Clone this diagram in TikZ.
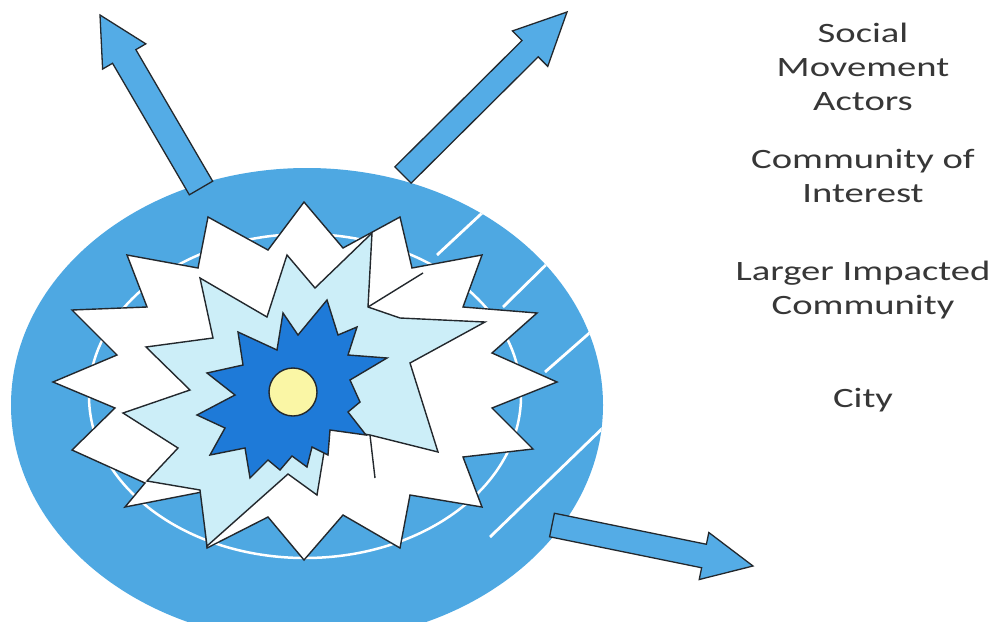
\documentclass[tikz,border=0pt]{standalone}
\usepackage{fontspec}
\setmainfont{Carlito}
\usetikzlibrary{calc}
\definecolor{ringblue}{RGB}{78,168,226}
\definecolor{arrowblue}{RGB}{84,172,230}
\definecolor{paleCyan}{RGB}{204,238,248}
\definecolor{deepBlue}{RGB}{30,122,216}
\definecolor{sunYellow}{RGB}{250,246,165}
\definecolor{inkline}{RGB}{35,40,45}
\definecolor{labelgray}{RGB}{55,55,55}
\tikzset{
  starshape/.style={draw=inkline, line width=1.4pt, line join=miter, miter limit=25},
  arrowshape/.style={fill=arrowblue, draw=inkline, line width=1.3pt, line join=miter},
  hatchline/.style={draw=white, line width=2.8pt},
  ringline/.style={draw=white, line width=2.5pt},
  legendtext/.style={font=\fontsize{28}{33.6}\selectfont, text=labelgray, align=center,
    xscale=1.38, anchor=base, inner sep=0pt}
}
% #1 name, #2 tail, #3 tip, #4 half shaft, #5 half head, #6 head length
\newcommand{\blockarrow}[6]{%
  \coordinate (#1-b) at ($(#3)!#6!(#2)$);
  \draw[arrowshape] ($(#2)!#4!90:(#3)$) -- ($(#1-b)!#4!90:(#3)$) -- ($(#1-b)!#5!90:(#3)$)
    -- (#3) -- ($(#1-b)!#5!-90:(#3)$) -- ($(#1-b)!#4!-90:(#3)$) -- ($(#2)!#4!-90:(#3)$) -- cycle;
}
\begin{document}
\begin{tikzpicture}[x=1pt,y=-1pt]
\useasboundingbox (0,0) rectangle (1001,621);
\fill[white] (0,0) rectangle (1001,621);
% outer blue disc
\coordinate (disc) at (307,405);
\fill[ringblue] (disc) ellipse [x radius=296, y radius=237];
\begin{scope}
  \clip (disc) ellipse [x radius=296, y radius=237];
  \draw[hatchline] (495,201) -- (437,255);
  \draw[hatchline] (559,252) -- (503,307);
  \draw[hatchline] (602,322) -- (545,372);
  \draw[hatchline] (610,421) -- (490,537);
\end{scope}
\draw[ringline] (305,396) ellipse [x radius=216, y radius=162];
% outer white burst
\draw[starshape, fill=white] (304,202) -- (343,248) -- (400,217) -- (412,268) -- (482,255)
  -- (463,307) -- (537,313) -- (492,353) -- (557,382) -- (492,408) -- (533,449)
  -- (463,457) -- (482,507) -- (410,495) -- (400,548) -- (343,515) -- (304,560)
  -- (268,517) -- (207,548) -- (202,492) -- (125,507) -- (145,483) -- (72,450)
  -- (115,408) -- (53,382) -- (117,355) -- (72,310) -- (147,307) -- (127,255)
  -- (198,268) -- (208,217) -- (268,250) -- cycle;
% pale cyan burst
\draw[starshape, fill=paleCyan] (146,347) -- (213,338) -- (200,278) -- (267,317)
  -- (287,255) -- (315,288) -- (372,233) -- (368,307) -- (400,318) -- (485,322)
  -- (410,363) -- (438,452) -- (370,435) -- (328,428) -- (317,495) -- (288,474)
  -- (207,546) -- (200,490) -- (147,481) -- (178,448) -- (123,413) -- (190,390) -- cycle;
% inner edges of the overlapping white burst
\draw[starshape] (368,307) -- (423,273);
\draw[starshape] (370,435) -- (375,478);
% deep blue burst
\draw[starshape, fill=deepBlue] (327,300) -- (338,335) -- (357,327) -- (348,355)
  -- (387,358) -- (350,380) -- (360,402) -- (348,412) -- (366,435) -- (330,430)
  -- (328,455) -- (312,447) -- (307,467) -- (292,456) -- (280,470) -- (268,460)
  -- (250,478) -- (245,448) -- (210,455) -- (225,428) -- (197,415) -- (235,395)
  -- (207,373) -- (243,365) -- (238,332) -- (277,350) -- (283,313) -- (298,335) -- cycle;
% core
\draw[draw=inkline, line width=1.4pt, fill=sunYellow] (293,392) circle [radius=24];
% arrows
\coordinate (a1t) at (201,188); \coordinate (a1h) at (100,15);
\coordinate (a2t) at (403,175); \coordinate (a2h) at (567,12);
\coordinate (a3t) at (552,525); \coordinate (a3h) at (753,566);
\blockarrow{a1}{a1t}{a1h}{13.5pt}{25pt}{48pt}
\blockarrow{a2}{a2t}{a2h}{11.5pt}{25pt}{52pt}
\blockarrow{a3}{a3t}{a3h}{12pt}{24pt}{50pt}
% legend (base anchor = last line's baseline)
\node[legendtext] (sma) at (863,110) {Social\\Movement\\Actors};
\node[legendtext] (coi) at (863,202) {Community of\\Interest};
\node[legendtext] (lic) at (863,314) {Larger Impacted\\Community};
\node[legendtext] (city) at (863,407) {City};
\end{tikzpicture}
\end{document}
